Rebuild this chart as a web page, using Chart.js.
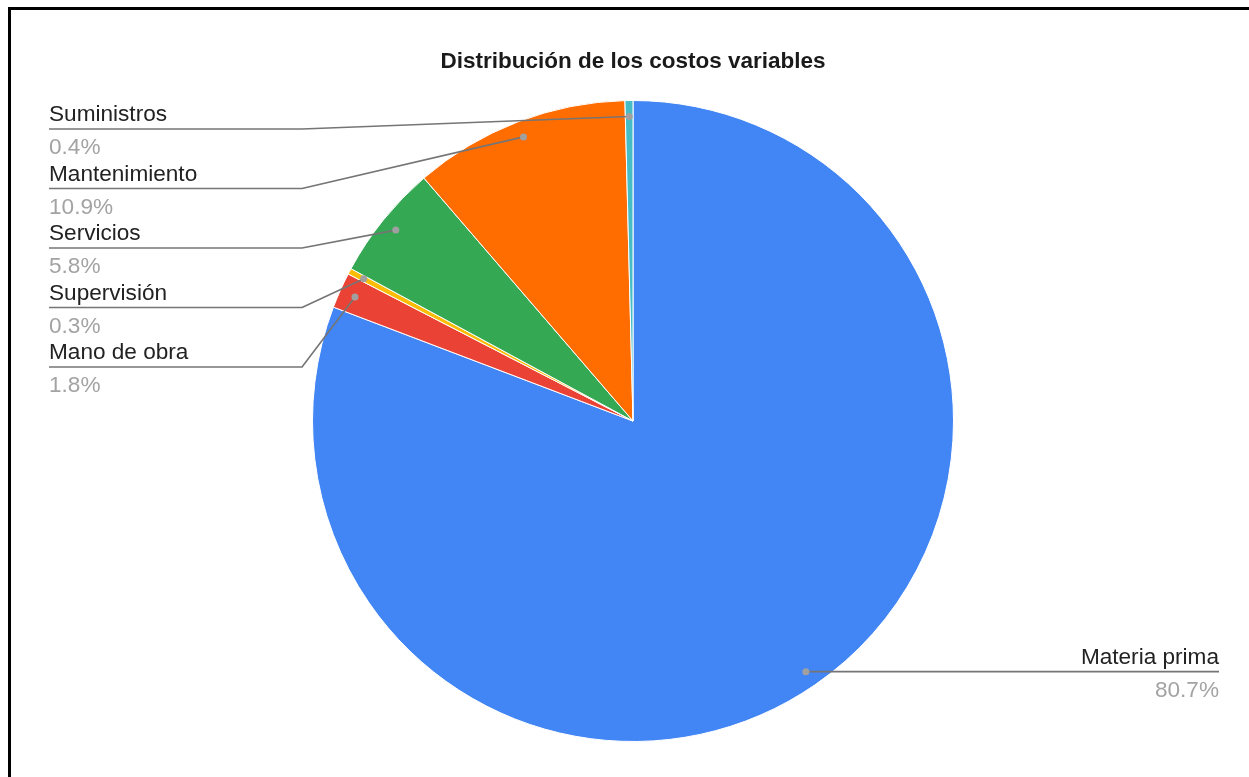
<!DOCTYPE html>
<html>
<head>
<meta charset="utf-8">
<title>Distribución de los costos variables</title>
<script src="https://cdn.jsdelivr.net/npm/chart.js@4.4.1/dist/chart.umd.min.js"></script>
<style>
  html, body { margin: 0; padding: 0; background: #fff; }
  #wrap { position: relative; width: 1249px; height: 777px; overflow: hidden; background: #fff; }
  #c { position: absolute; left: 0; top: 0; }
  #frame { position: absolute; left: 8px; top: 7px; width: 1400px; height: 1000px;
           border-top: 3px solid #000; border-left: 3px solid #000; pointer-events: none; }
</style>
</head>
<body>
<div id="wrap">
  <canvas id="c" width="1249" height="777"></canvas>
  <div id="frame"></div>
</div>
<script>
// Cost categories and their share of variable costs (%)
const categories = ['Materia prima', 'Mano de obra', 'Supervisión', 'Servicios', 'Mantenimiento', 'Suministros'];
const shares = [80.7, 1.8, 0.3, 5.8, 10.9, 0.4];
const sliceColors = ['#4285F4', '#EA4335', '#FBBC04', '#34A853', '#FF6D01', '#46BDC6'];
const chartTitle = 'Distribución de los costos variables';

const FONT = '"Liberation Sans", Arial, sans-serif';

// Draws the leader lines, dots and name / percentage labels for each slice
const sliceLabels = {
  id: 'sliceLabels',
  afterDatasetsDraw(chart) {
    const ctx = chart.ctx;
    const meta = chart.getDatasetMeta(0);
    const items = meta.data.map((arc, i) => {
      const mid = (arc.startAngle + arc.endAngle) / 2;
      const r = arc.outerRadius * 0.95;
      return {
        i,
        cx: arc.x,
        x: arc.x + Math.cos(mid) * r,
        y: arc.y + Math.sin(mid) * r
      };
    });

    const leftItems = items.filter(d => d.x < d.cx).sort((a, b) => a.y - b.y);
    const rightItems = items.filter(d => d.x >= d.cx).sort((a, b) => a.y - b.y);

    const textLeft = 49, elbowX = 302, firstLine = 129, step = 59.5;
    const textRight = 1219;

    function drawLabel(i, x, lineY, align) {
      ctx.textAlign = align;
      ctx.textBaseline = 'alphabetic';
      ctx.font = '22.6px ' + FONT;
      ctx.fillStyle = '#222222';
      ctx.fillText(categories[i], x, lineY - 8);
      ctx.fillStyle = '#a3a3a3';
      ctx.fillText(shares[i].toFixed(1) + '%', x, lineY + 25);
    }

    ctx.save();
    ctx.lineWidth = 1.6;
    ctx.strokeStyle = '#757575';
    ctx.lineJoin = 'round';

    leftItems.forEach((d, k) => {
      const ly = firstLine + k * step;
      ctx.beginPath();
      ctx.moveTo(d.x, d.y);
      ctx.lineTo(elbowX, ly);
      ctx.lineTo(textLeft, ly);
      ctx.stroke();
    });
    rightItems.forEach(d => {
      ctx.beginPath();
      ctx.moveTo(d.x, d.y);
      ctx.lineTo(textRight, d.y);
      ctx.stroke();
    });

    // dots at the slice anchors
    items.forEach(d => {
      ctx.beginPath();
      ctx.fillStyle = '#a0a0a0';
      ctx.arc(d.x, d.y, 3.5, 0, Math.PI * 2);
      ctx.fill();
    });

    leftItems.forEach((d, k) => drawLabel(d.i, textLeft, firstLine + k * step, 'left'));
    rightItems.forEach(d => drawLabel(d.i, textRight, d.y, 'right'));
    ctx.restore();
  }
};

new Chart(document.getElementById('c'), {
  type: 'pie',
  data: {
    labels: categories,
    datasets: [{
      data: shares,
      backgroundColor: sliceColors,
      borderColor: '#ffffff',
      borderWidth: 1
    }]
  },
  options: {
    responsive: false,
    animation: false,
    devicePixelRatio: 1,
    layout: { padding: { top: 0, bottom: 35, left: 17, right: 0 } },
    plugins: {
      legend: { display: false },
      tooltip: { enabled: false },
      title: {
        display: true,
        text: chartTitle,
        color: '#1a1a1a',
        font: { family: FONT, size: 22.5, weight: 'bold', lineHeight: 1.2 },
        padding: { top: 48, bottom: 25 }
      }
    }
  },
  plugins: [sliceLabels]
});
</script>
</body>
</html>
